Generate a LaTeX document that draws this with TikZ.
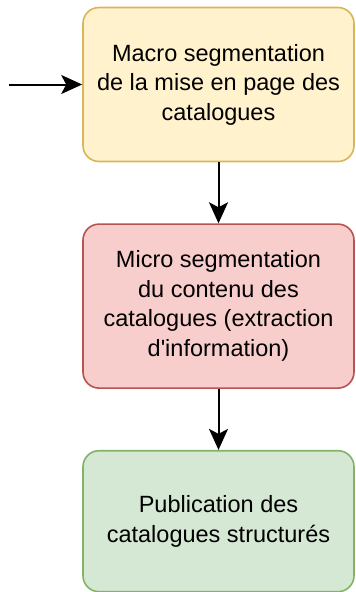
\documentclass[tikz,border=0pt]{standalone}
\usepackage{fontspec}
\setmainfont{Liberation Sans}
\usetikzlibrary{positioning,arrows.meta}

\definecolor{macrofill}{HTML}{FFF2CC}
\definecolor{macroline}{HTML}{D6B656}
\definecolor{microfill}{HTML}{F8CECC}
\definecolor{microline}{HTML}{B85450}
\definecolor{publifill}{HTML}{D5E8D4}
\definecolor{publiline}{HTML}{82B366}

\begin{document}
\begin{tikzpicture}[
        x=1pt,y=1pt,
        stage/.style={
            rounded corners=16pt,
            line width=1.6pt,
            minimum width=271pt,
            align=center,
            font=\fontsize{23.5}{29.5}\selectfont
            },
        flow/.style={
            -{Stealth[length=21pt,width=19pt,inset=5pt]},
            line width=2pt
            }
        ]
    \useasboundingbox (0,0) rectangle (356,-592);
    % Stages:
    % Each box is placed under the one before it:
    \node[stage, fill=macrofill, draw=macroline, minimum height=154pt]
        (macro) at (218.5,-84.5)
        {Macro segmentation\\de la mise en page des\\catalogues};
    \node[stage, fill=microfill, draw=microline, minimum height=164pt,
        below=61pt of macro]
        (micro)
        {Micro segmentation\\du contenu des\\catalogues (extraction\\d\textquotesingle information)};
    \node[stage, fill=publifill, draw=publiline, minimum height=141pt,
        below=61pt of micro]
        (publi)
        {Publication des\\catalogues structurés};

    % Arrows:
    \coordinate (entry) at (9,-84.5);
    \draw[flow] (entry) -- (macro);
    \draw[flow] (macro) -- (micro);
    \draw[flow] (micro) -- (publi);
\end{tikzpicture}
\end{document}
